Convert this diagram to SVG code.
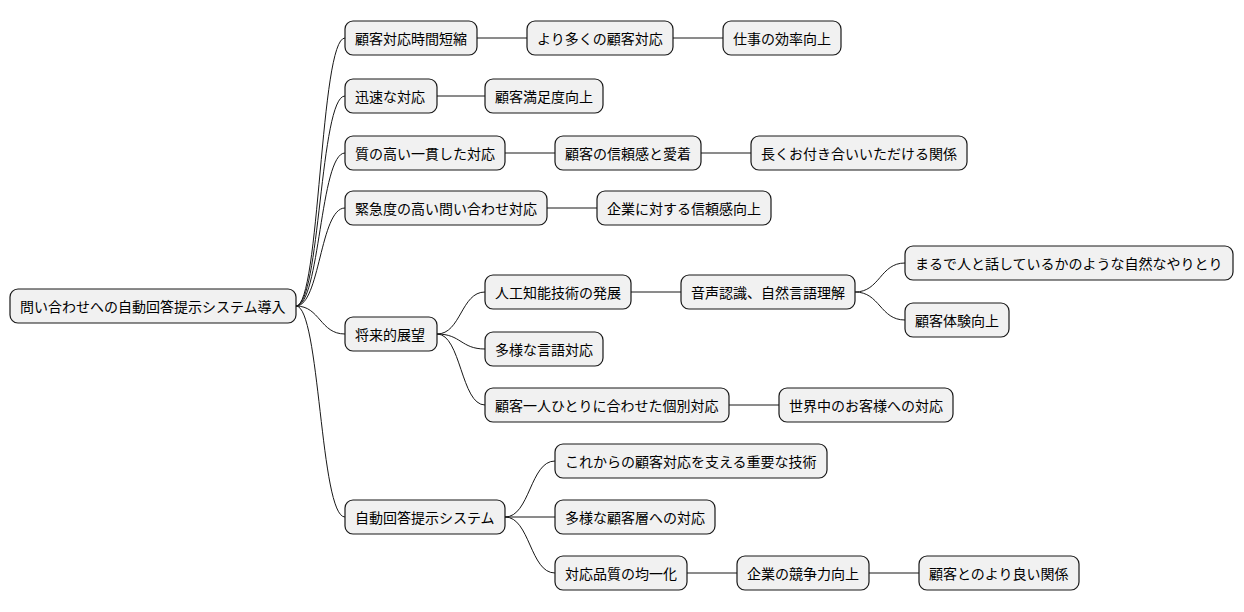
<svg xmlns="http://www.w3.org/2000/svg" width="1244" height="612" viewBox="0 0 1244 612">
<style>
.n rect{fill:#f1f1f1;stroke:#181818;stroke-width:1.2}
.n text{font-family:"Noto Sans CJK JP","Noto Sans",sans-serif;font-size:14px;fill:#000;dominant-baseline:central}
#edges path{fill:none;stroke:#181818;stroke-width:1}
</style>
<rect width="1244" height="612" fill="#fff"/>
<g id="edges">
<path d="M296 306 C320 306 320 38 345 38"/>
<path d="M296 306 C320 306 320 96 345 96"/>
<path d="M296 306 C320 306 320 153 345 153"/>
<path d="M296 306 C320 306 320 208 345 208"/>
<path d="M296 306 C320 306 320 334 345 334"/>
<path d="M296 306 C320 306 320 517 345 517"/>
<path d="M477 38 L527 38"/>
<path d="M673 38 L723 38"/>
<path d="M437 96 L485 96"/>
<path d="M505 153 L555 153"/>
<path d="M701 153 L751 153"/>
<path d="M547 208 L597 208"/>
<path d="M437 334 C461 334 461 292 485 292"/>
<path d="M437 334 C461 334 461 349 485 349"/>
<path d="M437 334 C461 334 461 405 485 405"/>
<path d="M631 292 L681 292"/>
<path d="M855 292 C880 292 880 263 905 263"/>
<path d="M855 292 C880 292 880 320 905 320"/>
<path d="M729 405 L779 405"/>
<path d="M505 517 C530 517 530 461 555 461"/>
<path d="M505 517 L555 517"/>
<path d="M505 517 C530 517 530 573 555 573"/>
<path d="M687 573 L737 573"/>
<path d="M869 573 L919 573"/>
</g>
<g id="root" class="n"><rect x="10" y="289" width="286" height="34" rx="8"/><text x="20" y="306">問い合わせへの自動回答提示システム導入</text></g>
<g id="n1" class="n"><rect x="345" y="21" width="132" height="34" rx="8"/><text x="355" y="38">顧客対応時間短縮</text></g>
<g id="n2" class="n"><rect x="345" y="79" width="92" height="34" rx="8"/><text x="355" y="96">迅速な対応</text></g>
<g id="n3" class="n"><rect x="345" y="136" width="160" height="34" rx="8"/><text x="355" y="153">質の高い一貫した対応</text></g>
<g id="n4" class="n"><rect x="345" y="191" width="202" height="34" rx="8"/><text x="355" y="208">緊急度の高い問い合わせ対応</text></g>
<g id="n5" class="n"><rect x="345" y="317" width="92" height="34" rx="8"/><text x="355" y="334">将来的展望</text></g>
<g id="n6" class="n"><rect x="345" y="500" width="160" height="34" rx="8"/><text x="355" y="517">自動回答提示システム</text></g>
<g id="n1a" class="n"><rect x="527" y="21" width="146" height="34" rx="8"/><text x="537" y="38">より多くの顧客対応</text></g>
<g id="n1b" class="n"><rect x="723" y="21" width="118" height="34" rx="8"/><text x="733" y="38">仕事の効率向上</text></g>
<g id="n2a" class="n"><rect x="485" y="79" width="118" height="34" rx="8"/><text x="495" y="96">顧客満足度向上</text></g>
<g id="n3a" class="n"><rect x="555" y="136" width="146" height="34" rx="8"/><text x="565" y="153">顧客の信頼感と愛着</text></g>
<g id="n3b" class="n"><rect x="751" y="136" width="216" height="34" rx="8"/><text x="761" y="153">長くお付き合いいただける関係</text></g>
<g id="n4a" class="n"><rect x="597" y="191" width="174" height="34" rx="8"/><text x="607" y="208">企業に対する信頼感向上</text></g>
<g id="n5a" class="n"><rect x="485" y="275" width="146" height="34" rx="8"/><text x="495" y="292">人工知能技術の発展</text></g>
<g id="n5a1" class="n"><rect x="681" y="275" width="174" height="34" rx="8"/><text x="691" y="292">音声認識、自然言語理解</text></g>
<g id="n5a1a" class="n"><rect x="905" y="246" width="328" height="34" rx="8"/><text x="915" y="263">まるで人と話しているかのような自然なやりとり</text></g>
<g id="n5a1b" class="n"><rect x="905" y="303" width="104" height="34" rx="8"/><text x="915" y="320">顧客体験向上</text></g>
<g id="n5b" class="n"><rect x="485" y="332" width="118" height="34" rx="8"/><text x="495" y="349">多様な言語対応</text></g>
<g id="n5c" class="n"><rect x="485" y="388" width="244" height="34" rx="8"/><text x="495" y="405">顧客一人ひとりに合わせた個別対応</text></g>
<g id="n5c1" class="n"><rect x="779" y="388" width="174" height="34" rx="8"/><text x="789" y="405">世界中のお客様への対応</text></g>
<g id="n6a" class="n"><rect x="555" y="444" width="272" height="34" rx="8"/><text x="565" y="461">これからの顧客対応を支える重要な技術</text></g>
<g id="n6b" class="n"><rect x="555" y="500" width="160" height="34" rx="8"/><text x="565" y="517">多様な顧客層への対応</text></g>
<g id="n6c" class="n"><rect x="555" y="556" width="132" height="34" rx="8"/><text x="565" y="573">対応品質の均一化</text></g>
<g id="n6c1" class="n"><rect x="737" y="556" width="132" height="34" rx="8"/><text x="747" y="573">企業の競争力向上</text></g>
<g id="n6c2" class="n"><rect x="919" y="556" width="160" height="34" rx="8"/><text x="929" y="573">顧客とのより良い関係</text></g>
</svg>
